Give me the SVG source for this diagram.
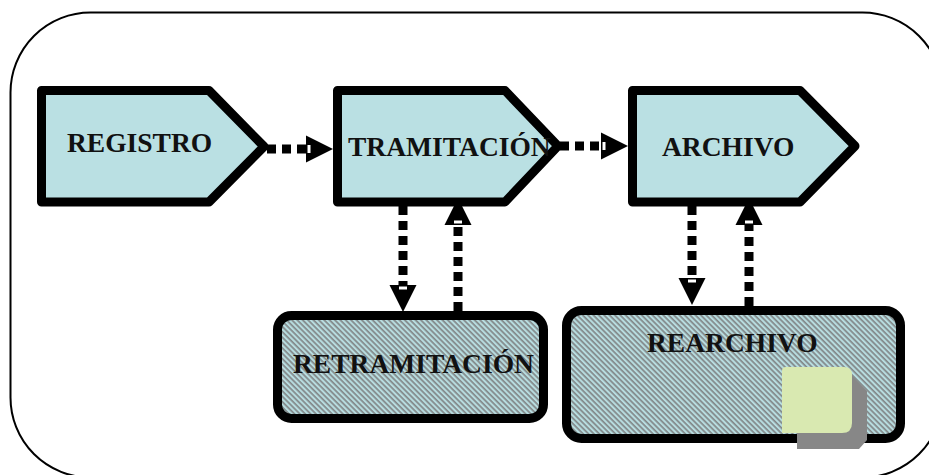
<svg xmlns="http://www.w3.org/2000/svg" width="929" height="475" viewBox="0 0 929 475">
  <defs>
    <style>
      .stage { fill: #bae0e3; stroke: #000; stroke-width: 9; stroke-linejoin: round; }
      .box { fill: url(#hatch); stroke: #000; stroke-width: 9; }
      .label { font-family: "Liberation Serif", "Times New Roman", serif; font-weight: bold; font-size: 27.5px; fill: #111; }
      .flow { fill: none; stroke: #000; stroke-width: 9; stroke-dasharray: 9 6; }
    </style>
    <pattern id="hatch" patternUnits="userSpaceOnUse" width="3.8" height="3.8" patternTransform="rotate(45)">
      <rect width="3.8" height="3.8" fill="#b7dcdf"/>
      <rect width="3.8" height="1.7" fill="#828889"/>
    </pattern>
    <marker id="head" markerUnits="userSpaceOnUse" markerWidth="27" markerHeight="27" viewBox="0 0 27 27" refX="0" refY="13.5" orient="auto" overflow="visible">
      <path d="M0,0 L27,13.5 L0,27 Z" fill="#000"/>
      <rect x="1.5" y="9.5" width="3" height="8" fill="#fff"/>
    </marker>
  </defs>

  <rect width="929" height="475" fill="#fff"/>

  <!-- outer frame, running off the right and bottom edges -->
  <rect id="frame" x="10.5" y="12.5" width="932" height="465" rx="80" ry="80" fill="none" stroke="#000" stroke-width="2"/>

  <g id="connectors">
    <line class="flow" x1="267" y1="149" x2="306" y2="149" marker-end="url(#head)"/>
    <line class="flow" x1="560" y1="146" x2="601" y2="146" marker-end="url(#head)"/>
    <line class="flow" x1="403" y1="206" x2="403" y2="285" marker-end="url(#head)"/>
    <line class="flow" x1="458" y1="311" x2="458" y2="225" marker-end="url(#head)"/>
    <line class="flow" x1="692" y1="206" x2="692" y2="278" marker-end="url(#head)"/>
    <line class="flow" x1="749" y1="306" x2="749" y2="225" marker-end="url(#head)"/>
  </g>

  <g id="registro">
    <path class="stage" d="M41.5,90.5 H209 L264,146.5 L209,202 H41.5 Z"/>
    <text class="label" x="67" y="152">REGISTRO</text>
  </g>

  <g id="tramitacion">
    <path class="stage" d="M337.5,90.5 H505 L558,146 L505,202 H337.5 Z"/>
    <text class="label" x="348" y="156">TRAMITACIÓN</text>
  </g>

  <g id="archivo">
    <path class="stage" d="M632.5,90.5 H800 L855,146 L800,202 H632.5 Z"/>
    <text class="label" x="662" y="156">ARCHIVO</text>
  </g>

  <g id="retramitacion">
    <rect class="box" x="277.5" y="315.5" width="266" height="103" rx="14" ry="14"/>
    <text class="label" x="293" y="373">RETRAMITACIÓN</text>
  </g>

  <g id="rearchivo">
    <rect class="box" x="566.5" y="310.5" width="334" height="128" rx="15" ry="15"/>
    <text class="label" x="647" y="352">REARCHIVO</text>
    <!-- sticky note with its drop shadow -->
    <path d="M846,369 L867,391 L867,440 L859,449 L797,449 L797,430 Z" fill="#878787"/>
    <path d="M786,367 H844 Q852,367 852,375 V423 Q852,433 842,433 H782 V371 Q782,367 786,367 Z" fill="#d9e9b1"/>
  </g>
</svg>
